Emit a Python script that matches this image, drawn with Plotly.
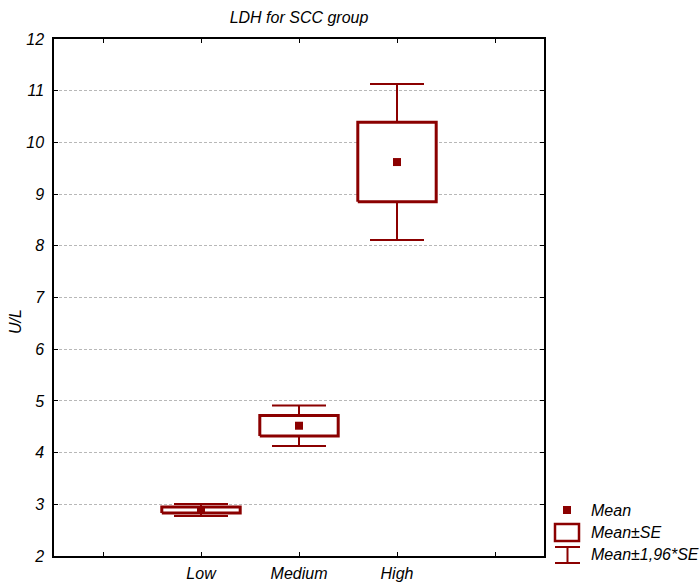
import plotly.graph_objects as go

# LDH (U/L) by SCC group: mean and standard error
groups = ["Low", "Medium", "High"]
positions = [1, 2, 3]
means = [2.89, 4.52, 9.62]
se = [0.06, 0.20, 0.77]
z = 1.96

axis_tickvals = [0, 1, 2, 3, 4]
axis_ticktext = ["", "Low", "Medium", "High", ""]
y_ticks = list(range(2, 13))

RED = "#8b0000"
FONT = "Liberation Sans, Arial, sans-serif"
FS = 16
W, H = 699, 584
L, R, T, B = 54, 544, 39, 556
BOX_HALF = 0.4

fig = go.Figure()

# whiskers: mean ± 1.96*SE
fig.add_trace(go.Scatter(
    x=positions, y=means, mode="markers",
    marker=dict(size=1, color="rgba(0,0,0,0)"),
    error_y=dict(type="data", symmetric=True,
                 array=[z * s for s in se],
                 color=RED, thickness=2, width=27),
    hoverinfo="skip", showlegend=False,
))

# boxes: mean ± SE, white fill covering the whisker line
bx, by = [], []
for p, m, s in zip(positions, means, se):
    lo, hi = m - s, m + s
    bx += [p - BOX_HALF, p + BOX_HALF, p + BOX_HALF, p - BOX_HALF, p - BOX_HALF, None]
    by += [lo, lo, hi, hi, lo, None]
fig.add_trace(go.Scatter(
    x=bx, y=by, mode="lines", fill="toself", fillcolor="white",
    line=dict(color=RED, width=3), hoverinfo="skip", showlegend=False,
))

# means
fig.add_trace(go.Scatter(
    x=positions, y=means, mode="markers",
    marker=dict(symbol="square", size=8, color=RED),
    showlegend=False,
))


def px(xp):
    return (xp - L) / (R - L)


def py(yp):
    return (B - yp) / (B - T)


# legend drawn in paper coordinates
shapes = [
    dict(type="rect", xref="paper", yref="paper",
         x0=px(563), x1=px(571), y0=py(514), y1=py(506),
         fillcolor=RED, line=dict(width=0)),
    dict(type="rect", xref="paper", yref="paper",
         x0=px(555), x1=px(579), y0=py(541), y1=py(524),
         fillcolor="white", line=dict(color=RED, width=2.5)),
    dict(type="line", xref="paper", yref="paper",
         x0=px(555), x1=px(580), y0=py(547), y1=py(547),
         line=dict(color=RED, width=2)),
    dict(type="line", xref="paper", yref="paper",
         x0=px(555), x1=px(580), y0=py(563), y1=py(563),
         line=dict(color=RED, width=2)),
    dict(type="line", xref="paper", yref="paper",
         x0=px(567.5), x1=px(567.5), y0=py(547), y1=py(563),
         line=dict(color=RED, width=2)),
]

legend_labels = [("Mean", 510), ("Mean±SE", 532), ("Mean±1,96*SE", 554)]
annotations = [
    dict(text=t, xref="paper", yref="paper", x=px(589), y=py(yy),
         xanchor="left", yanchor="middle", showarrow=False,
         font=dict(family=FONT, size=FS, color="#000", style="italic"))
    for t, yy in legend_labels
]
# y-axis unit label
annotations.append(dict(
    text="U/L", xref="paper", yref="paper", x=px(15), y=py(322),
    xanchor="center", yanchor="middle", textangle=-90, showarrow=False,
    font=dict(family=FONT, size=FS, color="#000", style="italic"),
))

fig.update_layout(
    width=W, height=H,
    margin=dict(l=L, r=W - R, t=T, b=H - B, pad=0, autoexpand=False),
    paper_bgcolor="white", plot_bgcolor="white",
    showlegend=False,
    title=dict(text="LDH for SCC group", x=0.5, xref="paper",
               y=1 - 17 / H, yanchor="middle", automargin=False,
               font=dict(family=FONT, size=FS, color="#000", style="italic")),
    shapes=shapes,
    annotations=annotations,
    font=dict(family=FONT, size=FS, color="#000"),
)

fig.update_xaxes(
    range=[-0.5, 4.5], tickmode="array",
    tickvals=axis_tickvals, ticktext=axis_ticktext,
    ticks="inside", ticklen=4, tickcolor="black", tickwidth=1,
    showline=True, linecolor="black", linewidth=1.5, mirror="allticks",
    showgrid=False, zeroline=False, automargin=False,
    tickfont=dict(family=FONT, size=FS, color="#000", style="italic"),
    ticklabelstandoff=2,
)
fig.update_yaxes(
    range=[2, 12], tickmode="array", tickvals=y_ticks,
    ticks="inside", ticklen=4, tickcolor="black", tickwidth=1,
    showline=True, linecolor="black", linewidth=1.5, mirror="ticks",
    showgrid=True, gridcolor="#b8b8b8", gridwidth=1, griddash="3px,2px",
    zeroline=False, automargin=False,
    tickfont=dict(family=FONT, size=FS, color="#000", style="italic"),
    ticklabelstandoff=5,
)

fig.write_html("out.html")
